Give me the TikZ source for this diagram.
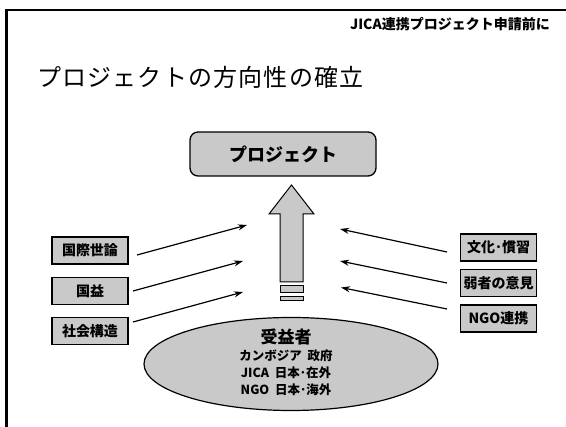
\documentclass[tikz,border=0pt]{standalone}
\usepackage{fontspec}
\setmainfont{Noto Sans CJK JP}
\usetikzlibrary{arrows.meta,shapes.geometric}
\definecolor{stip}{gray}{0.79}
\tikzset{
  lbl/.style={draw=black, line width=1.3pt, fill=stip, minimum width=76pt, minimum height=27pt, inner sep=0pt, font=\fontsize{14}{15}\selectfont\bfseries},
  conn/.style={line width=1.2pt, -{Stealth[length=9pt,width=6pt]}},
  big/.style={draw=black, line width=1pt, fill=stip},
  etext/.style={font=\fontsize{12.5}{13}\selectfont\bfseries, inner sep=0pt}
}
\begin{document}
\begin{tikzpicture}[x=1pt,y=-1pt]
\useasboundingbox (0,0) rectangle (566,427);
% frame
\draw[line width=2.5pt] (6.5,427) -- (6.5,10) -- (566,10);
% header and title
\node[anchor=east, font=\fontsize{14}{15}\selectfont\bfseries, inner sep=0pt] (hdr) at (550,24) {JICA連携プロジェクト申請前に};
\node[anchor=west, font=\fontsize{24}{26}\selectfont\addfontfeature{LetterSpace=5}, inner sep=0pt] (ttl) at (37,77) {プロジェクトの方向性の確立};
% project box
\node[draw=black, line width=1.3pt, fill=stip, rounded corners=8pt, minimum width=186pt, minimum height=44pt, inner sep=0pt, font=\fontsize{18}{20}\selectfont\bfseries] (proj) at (283,154) {プロジェクト};
% big arrow
\draw[big] (280,282) -- (280,214) -- (269,214) -- (291.5,185) -- (314,214) -- (303,214) -- (303,282) -- cycle;
\draw[big] (280,286) rectangle (303,293);
\draw[big] (280,297) rectangle (303,301);
% ellipse
\node[draw=black, line width=1.2pt, fill=stip, ellipse, minimum width=294pt, minimum height=93pt, inner sep=0pt] (ben) at (291,364) {};
\node[font=\fontsize{17}{18}\selectfont\bfseries, inner sep=0pt] (b0) at (286,337) {受益者};
\node[etext] (b1) at (286,356) {カンボジア\ \ 政府};
\node[etext] (b2) at (286,373) {JICA\ \ 日本･在外};
\node[etext] (b3) at (286,390) {NGO\ \ 日本･海外};
% left boxes
\node[lbl] (l1) at (90,250.5) {国際世論};
\node[lbl] (l2) at (90,291) {国益};
\node[lbl] (l3) at (90,331) {社会構造};
% right boxes
\node[lbl] (r1) at (498.5,247.5) {文化･慣習};
\node[lbl] (r2) at (498.5,283) {弱者の意見};
\node[lbl] (r3) at (498.5,318.5) {NGO連携};
% connector ends
\coordinate (l1s) at (137,255); \coordinate (l1e) at (247,225);
\coordinate (l2s) at (133,291); \coordinate (l2e) at (243,261);
\coordinate (l3s) at (133,322); \coordinate (l3e) at (243,292);
\coordinate (r1s) at (447,252); \coordinate (r1e) at (340,229);
\coordinate (r2s) at (447,283); \coordinate (r2e) at (340,261);
\coordinate (r3s) at (447,309); \coordinate (r3e) at (341,287.5);
\draw[conn] (l1s) -- (l1e);
\draw[conn] (l2s) -- (l2e);
\draw[conn] (l3s) -- (l3e);
\draw[conn] (r1s) -- (r1e);
\draw[conn] (r2s) -- (r2e);
\draw[conn] (r3s) -- (r3e);
\end{tikzpicture}
\end{document}
